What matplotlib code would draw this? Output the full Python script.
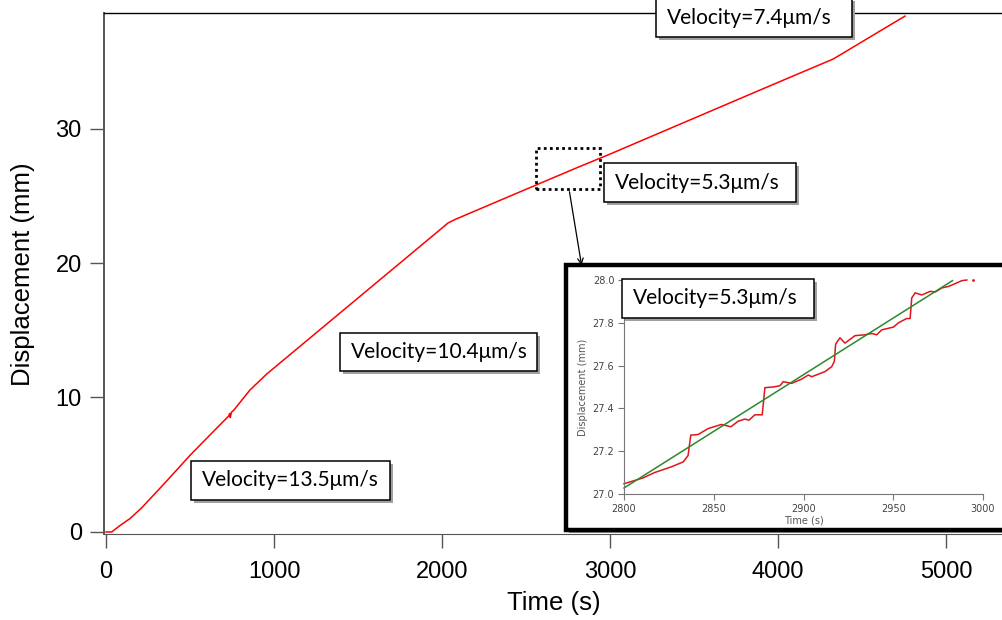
import matplotlib
matplotlib.use("Agg")
import matplotlib.pyplot as plt
from matplotlib.patches import Rectangle

# main trace: time (s) vs displacement (mm)
time_s = [0, 34, 80, 143, 212, 361, 500, 639, 730, 736, 740, 746, 760, 857, 956,
          1155, 1500, 1800, 2000, 2036, 2080, 2300, 2560, 2800, 3000, 3300, 3600,
          3900, 4100, 4327, 4400, 4600, 4756]
disp_mm = [0, 0, 0.45, 1.0, 1.79, 3.79, 5.7, 7.47, 8.62, 8.8, 8.5, 8.9, 9.05,
           10.56, 11.74, 13.81, 17.4, 20.52, 22.6, 22.98, 23.25, 24.42, 25.8,
           27.07, 28.1, 29.7, 31.3, 32.9, 33.96, 35.16, 35.7, 37.2, 38.36]

# zoomed window 2800-3000 s
zoom_t = [2800, 2810.6, 2817, 2826.4, 2833, 2835.7, 2837.2, 2841.3, 2846.9, 2854.3,
          2859.5, 2863.6, 2867.3, 2869.6, 2872.9, 2877, 2878.5, 2883.1, 2886.9,
          2888.7, 2893.4, 2899, 2902.7, 2904.6, 2912, 2915.7, 2917.2, 2917.9,
          2920.3, 2923.1, 2928.7, 2934.3, 2938, 2940.8, 2943.6, 2950.1, 2952.9,
          2957.5, 2959.4, 2960.3, 2962.2, 2965.9, 2970.6, 2973.4, 2977.1, 2980.8,
          2984.5, 2988.2, 2991]
zoom_d = [27.048, 27.075, 27.10, 27.127, 27.15, 27.18, 27.275, 27.278, 27.306,
          27.325, 27.314, 27.34, 27.35, 27.345, 27.37, 27.37, 27.497, 27.50,
          27.506, 27.525, 27.517, 27.537, 27.556, 27.548, 27.572, 27.595, 27.62,
          27.70, 27.73, 27.705, 27.74, 27.744, 27.75, 27.744, 27.767, 27.78,
          27.80, 27.82, 27.82, 27.916, 27.94, 27.93, 27.947, 27.944, 27.963,
          27.97, 27.983, 27.997, 28.0]
fit_t = [2800, 2983]
fit_d = [27.028, 27.997]

labels = ["Velocity=13.5\u03bcm/s", "Velocity=10.4\u03bcm/s", "Velocity=5.3\u03bcm/s",
          "Velocity=7.4\u03bcm/s", "Velocity=5.3\u03bcm/s"]
# label boxes in pixels: left, top, right, bottom
boxes = [(191, 461, 390, 500), (340, 333, 537, 371), (604, 163, 796, 202),
         (656, -2, 852, 37), (622, 279, 814, 318)]

W, H = 1003, 620
fig = plt.figure(figsize=(W / 100, H / 100), dpi=100)

ax = fig.add_axes([104 / W, 1 - 534.4 / H, 1 - 104 / W, (534.4 - 13) / H])
ax.plot(time_s, disp_mm, color="#ff0000", lw=1.1)
ax.set_xlim(-12, 5339)
ax.set_ylim(-0.18, 38.59)
ax.set_xticks([0, 1000, 2000, 3000, 4000, 5000])
ax.set_yticks([0, 10, 20, 30])
ax.spines["right"].set_visible(False)
ax.spines["left"].set_color("#555555")
ax.spines["left"].set_linewidth(1.4)
ax.spines["top"].set_linewidth(1.0)
ax.spines["bottom"].set_color("#555555")
ax.tick_params(length=10, width=1.0, color="#555555", labelsize=17)
ax.tick_params(axis="x", pad=9)
ax.tick_params(axis="y", pad=6)
for t in ax.get_xticklabels() + ax.get_yticklabels():
    t.set_family("Liberation Sans")
ax.set_xlabel("Time (s)", fontsize=18.5, family="Liberation Sans", labelpad=6)
ax.set_ylabel("Displacement (mm)", fontsize=18.5, family="Liberation Sans", labelpad=15)

# dotted window on the main trace
ax.add_patch(Rectangle((2560, 25.5), 380, 3.07, fill=False, ls=(0, (1, 1.2)),
                       lw=2.0, color="black", zorder=4))
ax.annotate("", xy=(582, H - 268), xytext=(569, H - 189),
            xycoords="figure pixels", textcoords="figure pixels",
            arrowprops=dict(arrowstyle="->", color="black", lw=0.9))

# frame around the inset
fig.add_artist(Rectangle(((566 + 3) / W, 1 - (533) / H), 450 / W, 265 / H,
                         transform=fig.transFigure, fc="#999999", ec="none", zorder=5))
fig.add_artist(Rectangle((566 / W, 1 - 530 / H), 450 / W, 265 / H,
                         transform=fig.transFigure, fc="white", ec="black", lw=3.2, zorder=6))

ins = fig.add_axes([624 / W, 1 - 494 / H, (983 - 624) / W, (494 - 280) / H])
ins.set_zorder(7)
ins.plot(zoom_t, zoom_d, color="#e0151b", lw=1.1, clip_on=False)
ins.plot(fit_t, fit_d, color="#2a8a2a", lw=1.1, clip_on=False)
ins.plot([2994.7], [28.0], ".", color="#e0151b", ms=2, clip_on=False)
ins.set_xlim(2800, 3000)
ins.set_ylim(27.0, 28.0)
ins.set_xticks([2800, 2850, 2900, 2950, 3000])
ins.set_yticks([27.0, 27.2, 27.4, 27.6, 27.8, 28.0])
ins.set_yticklabels(["27.0", "27.2", "27.4", "27.6", "27.8", "28.0"])
ins.spines["right"].set_visible(False)
ins.spines["top"].set_visible(False)
for s in ("left", "bottom"):
    ins.spines[s].set_color("#777777")
    ins.spines[s].set_linewidth(0.8)
ins.tick_params(length=4, width=0.8, color="#777777", labelsize=7,
                labelcolor="#444444", pad=3)
ins.set_xlabel("Time (s)", fontsize=7, color="#555555", labelpad=1)
ins.set_ylabel("Displacement (mm)", fontsize=7, color="#555555", labelpad=3)

# velocity label boxes
for text, (x0, y0, x1, y1) in zip(labels, boxes):
    fig.add_artist(Rectangle(((x0 + 3) / W, 1 - (y1 + 3) / H), (x1 - x0) / W,
                             (y1 - y0) / H, transform=fig.transFigure,
                             fc="#a0a0a0", ec="none", zorder=9))
    fig.add_artist(Rectangle((x0 / W, 1 - y1 / H), (x1 - x0) / W, (y1 - y0) / H,
                             transform=fig.transFigure, fc="white", ec="black",
                             lw=1.1, zorder=10))
    fig.text((x0 + 11) / W, 1 - (y0 + y1) / 2 / H, text, ha="left",
             va="center", fontsize=15, family="Lato", zorder=11)

fig.savefig("out.png", dpi=100)
